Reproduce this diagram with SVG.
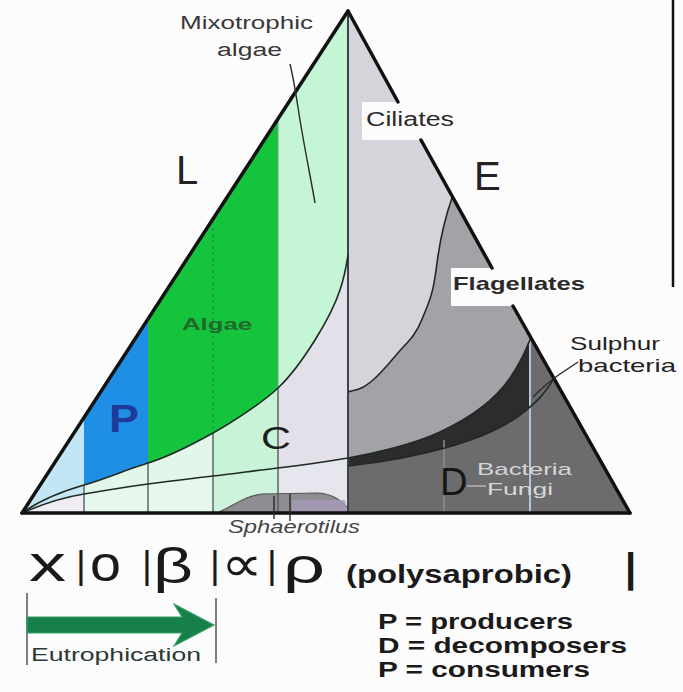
<svg xmlns="http://www.w3.org/2000/svg" width="683" height="692" viewBox="0 0 683 692">
<style>
  text { font-family: "Liberation Sans", Arial, sans-serif; }
  .dark { fill: #222; }
  .edge { stroke: #111; stroke-width: 3.5; stroke-linecap: round; fill: none; }
  .grid { stroke: #4f605a; stroke-width: 1.4; }
  .curve { fill: none; stroke: #1f2a25; stroke-width: 1.6; }
  .lead { fill: none; stroke: #2a2a2a; stroke-width: 1.4; }
  .sym { font-size: 50px; fill: #1a1a1a; }
  .bar { font-size: 38px; fill: #1a1a1a; }
  .leg { font-size: 22px; font-weight: bold; fill: #1a1a1a; }
</style>
<defs>
  <clipPath id="belowA"><path d="M22,513 C40,500 60,492 84,485 S125,470 148,463 S195,443 213,433 S262,403 278,388 S305,356 315,340 S335,305 340,290 S346,268 348,255 L348,513 Z"/></clipPath>
  <clipPath id="belowB"><path d="M22,513 C45,503 65,497 84,494 S125,487 148,484 S195,478 213,476 S260,470 278,468 S330,461 348,458 L348,513 Z"/></clipPath>
</defs>
<rect x="0" y="0" width="683" height="692" fill="#fdfcfd"/>

<g id="left-zones">
  <polygon points="22,513 84,418 84,513" fill="#c2e6f6"/>
  <polygon points="84,418 148,319 148,513 84,513" fill="#1f8fe5"/>
  <polygon points="148,319 278,120 278,513 148,513" fill="#14c43c"/>
  <polygon points="278,120 348,12 348,513 278,513" fill="#c4f5d5"/>
  <g clip-path="url(#belowA)">
    <rect x="22" y="250" width="62" height="263" fill="#c6e8f4"/>
    <rect x="84" y="250" width="129" height="263" fill="#e2f7ea"/>
    <rect x="213" y="250" width="65" height="263" fill="#c8f3d8"/>
    <rect x="278" y="250" width="70" height="263" fill="#e3e0ea"/>
  </g>
  <g clip-path="url(#belowB)">
    <rect x="22" y="440" width="62" height="73" fill="#efedf3"/>
    <rect x="84" y="440" width="129" height="73" fill="#e6f8ee"/>
    <rect x="213" y="440" width="65" height="73" fill="#cdf3dc"/>
    <rect x="278" y="440" width="70" height="73" fill="#e6e6ee"/>
  </g>
</g>

<g id="right-zones">
  <path d="M348,12 L630,513 L348,513 Z" fill="#d5d4da"/>
  <path d="M452,198 C446,215 440,240 437,263 S432,295 427,307 S418,332 407,343 S385,370 373,380 S358,389 348,392 L348,513 L630,513 Z" fill="#a3a3a7"/>
  <path d="M348,458 C366,455 410,446 440,432 S495,400 510,378 S527,345 531,338 L630,513 L348,513 Z" fill="#2c2c2e"/>
  <path d="M348,466 C385,462 420,455 445,448 S500,430 520,415 L530,407 L530,334 L630,513 L348,513 Z" fill="#6c6c6e"/>
</g>

<g id="sphaerotilus-mound">
  <path d="M217,513 C235,505 245,496 262,494 L318,493 C334,494 341,501 348,508 L348,513 Z" fill="#8e8e92" stroke="#555" stroke-width="1.2"/>
  <path d="M292,500 L345,500 L348,512 L292,512 Z" fill="#a89ab8" opacity="0.8"/>
</g>

<g id="grid">
  <g clip-path="url(#belowA)">
    <line class="grid" x1="84" y1="418" x2="84" y2="513"/>
    <line class="grid" x1="148" y1="319" x2="148" y2="513"/>
    <line class="grid" x1="213" y1="220" x2="213" y2="513"/>
    <line class="grid" x1="278" y1="120" x2="278" y2="513"/>
  </g>
  <line x1="213" y1="222" x2="213" y2="432" stroke="#2a8a40" stroke-width="1.2" stroke-dasharray="3 3"/>
  <line x1="278" y1="120" x2="278" y2="388" stroke="#7aa88a" stroke-width="1.2"/>
  <line x1="348" y1="12" x2="348" y2="513" stroke="#3c444a" stroke-width="2"/>
  <line x1="444" y1="440" x2="444" y2="513" stroke="#8c8c8e" stroke-width="1.5"/>
  <line x1="530" y1="340" x2="530" y2="513" stroke="#b4c4d4" stroke-width="2"/>
</g>

<g id="curves">
  <path class="curve" d="M22,513 C40,500 60,492 84,485 S125,470 148,463 S195,443 213,433 S262,403 278,388 S305,356 315,340 S335,305 340,290 S346,268 348,255"/>
  <path class="curve" d="M22,513 C45,503 65,497 84,494 S125,487 148,484 S195,478 213,476 S260,470 278,468 S330,461 348,458 S410,446 440,432 S495,400 510,378 S527,345 531,338"/>
  <path class="curve" d="M348,466 C385,462 420,455 445,448 S500,430 520,415 S545,392 553,380"/>
  <path class="curve" d="M452,198 C446,215 440,240 437,263 S432,295 427,307 S418,332 407,343 S385,370 373,380 S358,389 348,392"/>
</g>

<g id="label-boxes">
  <rect x="362" y="102" width="112" height="38" fill="#fdfcfd"/>
  <rect x="451" y="268" width="150" height="38" fill="#fdfcfd"/>
</g>

<g id="triangle-edges">
  <line class="edge" x1="22" y1="513" x2="348" y2="11"/>
  <line class="edge" x1="22" y1="513" x2="630" y2="513"/>
  <line class="edge" x1="348" y1="11" x2="398" y2="102"/>
  <line class="edge" x1="421" y1="140" x2="492" y2="268"/>
  <line class="edge" x1="513" y1="306" x2="630" y2="513"/>
</g>

<line id="frame-mark" x1="673" y1="0" x2="673" y2="287" stroke="#111" stroke-width="2.5"/>

<g id="connectors">
  <path class="lead" d="M290,64 C294,80 296,95 300,120 S312,185 315,203"/>
  <path class="lead" d="M533,397 Q548,382 560,374 L578,362"/>
  <line class="lead" x1="274" y1="496" x2="274" y2="519"/>
  <line class="lead" x1="290" y1="494" x2="290" y2="521"/>
  <line x1="467" y1="486" x2="486" y2="486" stroke="#c8c8c8" stroke-width="1.2"/>
</g>

<g id="labels">
  <text x="180" y="29" font-size="18" fill="#383838" textLength="133" lengthAdjust="spacingAndGlyphs">Mixotrophic</text>
  <text x="217" y="56" font-size="18" fill="#383838" textLength="65" lengthAdjust="spacingAndGlyphs">algae</text>
  <text x="176" y="184" font-size="40" class="dark">L</text>
  <text x="474" y="190" font-size="40" class="dark">E</text>
  <text x="366" y="126" font-size="20" fill="#2a2a2a" textLength="88" lengthAdjust="spacingAndGlyphs">Ciliates</text>
  <text x="453" y="290" font-size="19" font-weight="bold" fill="#2a2a2a" textLength="132" lengthAdjust="spacingAndGlyphs">Flagellates</text>
  <text x="570" y="350" font-size="19" fill="#222" textLength="90" lengthAdjust="spacingAndGlyphs">Sulphur</text>
  <text x="578" y="372" font-size="19" fill="#222" textLength="98" lengthAdjust="spacingAndGlyphs">bacteria</text>
  <text x="182" y="330" font-size="16" font-weight="bold" fill="#1f6a2a" textLength="70" lengthAdjust="spacingAndGlyphs">Algae</text>
  <text x="109" y="432" font-size="38" font-weight="bold" fill="#1c3b9b" textLength="30" lengthAdjust="spacingAndGlyphs">P</text>
  <text x="261" y="449" font-size="32" fill="#1e1e1e" textLength="30" lengthAdjust="spacingAndGlyphs">C</text>
  <text x="440" y="495" font-size="38" fill="#161616">D</text>
  <text x="477" y="475" font-size="17" fill="#d6d6d6" textLength="95" lengthAdjust="spacingAndGlyphs">Bacteria</text>
  <text x="487" y="495" font-size="17" fill="#d6d6d6" textLength="66" lengthAdjust="spacingAndGlyphs">Fungi</text>
  <text x="228" y="533" font-size="18" font-style="italic" fill="#454545" textLength="132" lengthAdjust="spacingAndGlyphs">Sphaerotilus</text>
</g>

<g id="saprobic-scale">
  <text class="sym" x="29" y="581" textLength="37" lengthAdjust="spacingAndGlyphs">x</text>
  <text class="bar" x="76" y="578">|</text>
  <text class="sym" x="90" y="581" textLength="31" lengthAdjust="spacingAndGlyphs">o</text>
  <text class="bar" x="142" y="578">|</text>
  <text class="sym" x="153" y="583" textLength="40" lengthAdjust="spacingAndGlyphs">β</text>
  <text class="bar" x="210" y="578">|</text>
  <text class="sym" x="221" y="581" font-family="DejaVu Sans, sans-serif" textLength="42" lengthAdjust="spacingAndGlyphs">∝</text>
  <text class="bar" x="267" y="578">|</text>
  <text class="sym" x="283" y="583" textLength="42" lengthAdjust="spacingAndGlyphs">ρ</text>
  <text x="346" y="583" font-size="26" font-weight="bold" fill="#1a1a1a" textLength="226" lengthAdjust="spacingAndGlyphs">(polysaprobic)</text>
  <text x="625" y="582" font-size="40" font-weight="bold" fill="#1a1a1a">|</text>
</g>

<g id="eutrophication">
  <line x1="27" y1="593" x2="27" y2="665" stroke="#555" stroke-width="1.5"/>
  <line x1="216" y1="598" x2="216" y2="663" stroke="#555" stroke-width="1.5"/>
  <path d="M27,617 L182,617 L174,604 L214,625 L174,646 L182,633 L27,633 Z" fill="#17804a" stroke="#3aa066" stroke-width="1.2"/>
  <text x="31" y="661" font-size="18" fill="#2a3a32" textLength="170" lengthAdjust="spacingAndGlyphs">Eutrophication</text>
</g>

<g id="legend">
  <text class="leg" x="378" y="629" textLength="195" lengthAdjust="spacingAndGlyphs">P = producers</text>
  <text class="leg" x="378" y="653" textLength="249" lengthAdjust="spacingAndGlyphs">D = decomposers</text>
  <text class="leg" x="378" y="677" textLength="212" lengthAdjust="spacingAndGlyphs">P = consumers</text>
</g>
</svg>
